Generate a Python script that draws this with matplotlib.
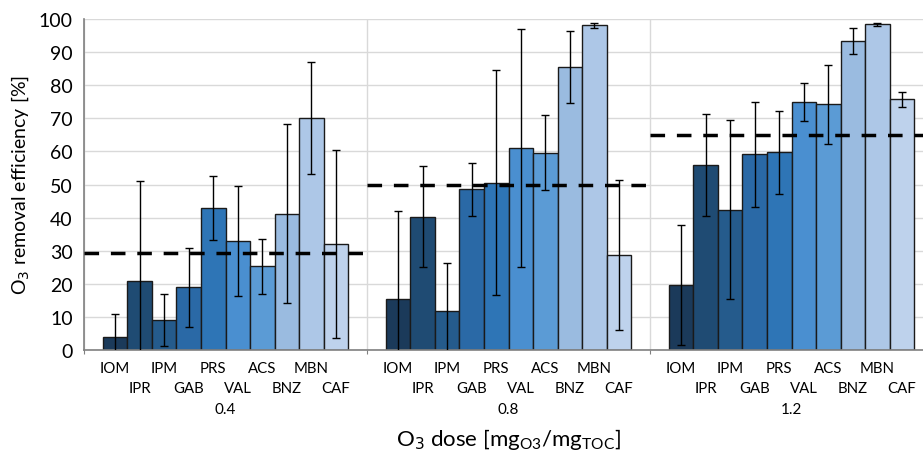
import numpy as np
import matplotlib.pyplot as plt

plt.rcParams['font.family'] = ['Lato', 'DejaVu Sans']

compounds = ["IOM", "IPR", "IPM", "GAB", "PRS", "VAL", "ACS", "BNZ", "MBN", "CAF"]
doses = ["0.4", "0.8", "1.2"]
colors = ["#1b3a5a", "#1f4b73", "#255b8c", "#2a69a6", "#2e75b6",
          "#4a8fd0", "#5b9bd5", "#9abbe0", "#adc7e7", "#bed2ec"]

# removal efficiency [%] per dose, one value per compound
eff_04 = [3.8, 20.9, 9.0, 18.9, 42.9, 32.8, 25.3, 41.2, 70.0, 32.0]
eff_08 = [15.3, 40.3, 11.8, 48.5, 50.6, 61.0, 59.6, 85.5, 98.1, 28.7]
eff_12 = [19.6, 55.9, 42.4, 59.1, 59.7, 75.0, 74.2, 93.3, 98.4, 75.7]

err_04 = [7.0, 30.2, 7.8, 11.9, 9.6, 16.6, 8.3, 27.0, 16.9, 28.5]
err_08 = [26.8, 15.2, 14.6, 8.0, 34.0, 36.0, 11.4, 11.0, 0.8, 22.7]
err_12 = [18.2, 15.4, 27.1, 15.9, 12.6, 5.8, 11.9, 4.0, 0.5, 2.3]

mean_line = [29.2, 49.9, 65.0]

eff = [eff_04, eff_08, eff_12]
err = [err_04, err_08, err_12]

fig = plt.figure(figsize=(9.23, 4.60), dpi=100)
ax = fig.add_axes([84/923, 1 - 351/460, 849/923, 331/460])

w = 0.0867
n = len(compounds)
for g in range(len(doses)):
  x = g + (np.arange(n) - 4.5)*w
  ax.bar(x, eff[g], width=w, color=colors, edgecolor="#1a1a1a", linewidth=1.0, zorder=2)
  ax.errorbar(x, eff[g], yerr=err[g], fmt="none", ecolor="black", elinewidth=1.0,
              capsize=3, capthick=1.0, zorder=3)
  ax.plot([g - 0.5, g + 0.5], [mean_line[g]]*2, color="black", linestyle=(0, (4.2, 3.4)),
          linewidth=2.5, zorder=4)
  for j in range(n):
    ax.text(x[j], -3.3 if j % 2 == 0 else -9.3, compounds[j], ha="center", va="top",
            fontsize=10.8)
  ax.text(g, -15.8, doses[g], ha="center", va="top", fontsize=11)

ax.set_xlim(-0.5, 2.5)
ax.set_ylim(0, 100)
ax.set_yticks(range(0, 101, 10))
ax.tick_params(axis="y", length=0, labelsize=14, pad=8)
ax.set_xticks([-0.5, 0.5, 1.5, 2.5])
ax.set_xticklabels([])
ax.tick_params(axis="x", length=3, color="#808080", direction="out")
ax.grid(True, color="#d9d9d9", linewidth=1, zorder=0)
ax.set_axisbelow(True)
for s in ["top", "right"]:
  ax.spines[s].set_visible(False)
for s in ["left", "bottom"]:
  ax.spines[s].set_color("#808080")
  ax.spines[s].set_linewidth(1.2)

ax.set_ylabel("O$_3$ removal efficiency [%]", fontsize=14, labelpad=6)
fig.text(508/923, 1 - 440/460, "O$_3$ dose [mg$_{\\mathregular{O3}}$/mg$_{\\mathregular{TOC}}$]",
         ha="center", va="center", fontsize=16)

fig.savefig("out.png", dpi=100)
